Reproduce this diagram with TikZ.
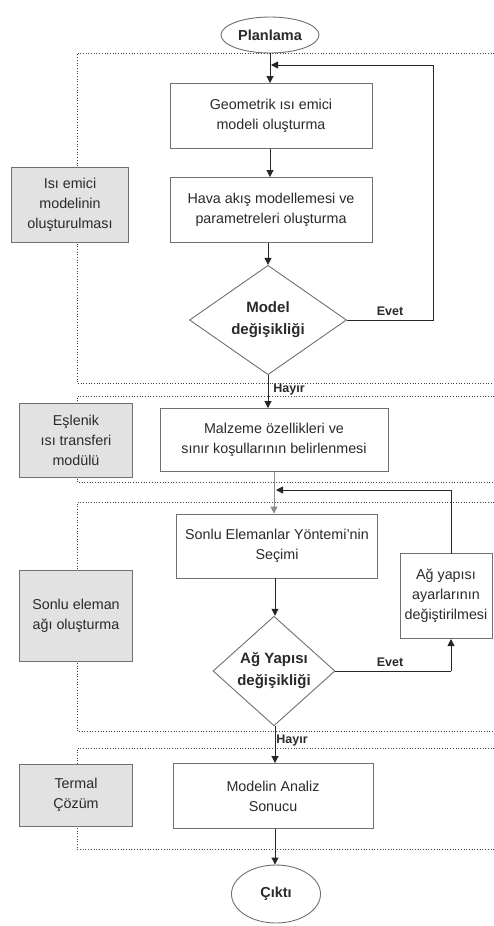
\documentclass[tikz,border=0pt]{standalone}
\usepackage{fontspec}
\setmainfont{Liberation Sans}
\usetikzlibrary{shapes.geometric,arrows.meta}
\definecolor{txt}{HTML}{2A2A2A}
\definecolor{bord}{HTML}{707070}
\definecolor{grayfill}{HTML}{E2E2E2}
\tikzset{
  proc/.style={draw=bord,line width=0.9pt,fill=white,align=center,text=txt,inner sep=2pt,
     font=\fontsize{14.3}{20}\selectfont},
  side/.style={proc,fill=grayfill},
  dec/.style={diamond,draw=bord,line width=0.9pt,fill=white,align=center,inner sep=0pt,
     font=\bfseries\fontsize{15}{22}\selectfont,text=txt},
  term/.style={ellipse,draw=bord,line width=0.9pt,fill=white,inner sep=0pt,
     font=\bfseries\fontsize{14.5}{18}\selectfont,text=txt},
  arr/.style={draw=black!85,line width=0.9pt,-{Triangle[length=7pt,width=7pt]}},
  ln/.style={draw=black!85,line width=0.9pt},
  sect/.style={draw=black!75,line width=0.7pt,dotted},
  lbl/.style={font=\bfseries\fontsize{12.5}{14}\selectfont,text=txt,inner sep=1pt}
}
\begin{document}
\begin{tikzpicture}[x=1pt,y=-1pt]
\useasboundingbox[fill=white] (0,0) rectangle (494,926);

% section frames (open at the right edge)
\draw[sect] (494,53) -- (77,53) -- (77,383) -- (494,383);
\draw[sect] (494,396) -- (77,396) -- (77,482) -- (494,482);
\draw[sect] (494,502) -- (77,502) -- (77,731) -- (494,731);
\draw[sect] (494,748) -- (77,748) -- (77,849) -- (494,849);

% side labels
\node[side,minimum width=117,minimum height=75] (g1) at (70,205) {Isı emici\\modelinin\\oluşturulması};
\node[side,minimum width=113,minimum height=74] (g2) at (76,440) {Eşlenik\\ısı transferi\\modülü};
\node[side,minimum width=113,minimum height=91] (g3) at (76,616) {Sonlu eleman\\ağı oluşturma};
\node[side,minimum width=113,minimum height=62] (g4) at (76,795) {Termal\\Çözüm};

% main flow
\node[term,minimum width=98,minimum height=36] (plan) at (270,35) {Planlama};
\node[proc,minimum width=202,minimum height=65] (geo) at (271,116) {Geometrik ısı emici\\modeli oluşturma};
\node[proc,minimum width=202,minimum height=65] (hava) at (271,210) {Hava akış modellemesi ve\\parametreleri oluşturma};
\node[dec,minimum width=157,minimum height=106] (d1) at (268,320) {Model\\değişikliği};
\node[proc,minimum width=228,minimum height=63] (malz) at (274,440) {Malzeme özellikleri ve\\sınır koşullarının belirlenmesi};
\node[proc,minimum width=201,minimum height=64] (sonlu) at (277,546) {Sonlu Elemanlar Yöntemi'nin\\Seçimi};
\node[proc,minimum width=92,minimum height=85] (ag) at (446,596) {Ağ yapısı\\ayarlarının\\değiştirilmesi};
\node[dec,minimum width=122,minimum height=106] (d2) at (274,671) {Ağ Yapısı\\değişikliği};
\node[proc,minimum width=200,minimum height=65] (model) at (273,796) {Modelin Analiz\\Sonucu};
\node[term,minimum width=89,minimum height=58] (cikti) at (276,894) {Çıktı};

% helper coordinates
\coordinate (j1) at (271,65);
\coordinate (r1) at (433,65);
\coordinate (j2) at (276,490);
\coordinate (r2) at (451,490);
\coordinate (r3) at (451,671);
\coordinate (agb) at (451,639);
\coordinate (agt) at (451,554);

% connectors
\draw[arr] (plan.south) -- (plan.south |- geo.north);
\draw[arr] (geo.south -| 270,0) -- (hava.north -| 270,0);
\draw[arr] (hava.south -| 268,0) -- (d1.north);
\draw[arr] (d1.east) -| (r1) -- (j1);
\draw[arr] (d1.south) -- (d1.south |- malz.north);
\draw[arr,draw=black!45] (malz.south -| 274,0) -- (sonlu.north -| 274,0);
\draw[arr] (agt) -- (r2) -- (j2);
\draw[arr] (sonlu.south -| 275,0) -- (d2.north -| 275,0);
\draw[ln] (d2.east) -- (r3);
\draw[arr] (r3) -- (agb);
\draw[arr] (d2.south -| 275,0) -- (model.north -| 275,0);
\draw[arr] (model.south -| 275,0) -- (cikti.north -| 275,0);

% labels
\node[lbl] (e1) at (390,311) {Evet};
\node[lbl] (h1) at (289,389) {Hayır};
\node[lbl] (e2) at (390,662) {Evet};
\node[lbl] (h2) at (292,740) {Hayır};
\end{tikzpicture}
\end{document}
